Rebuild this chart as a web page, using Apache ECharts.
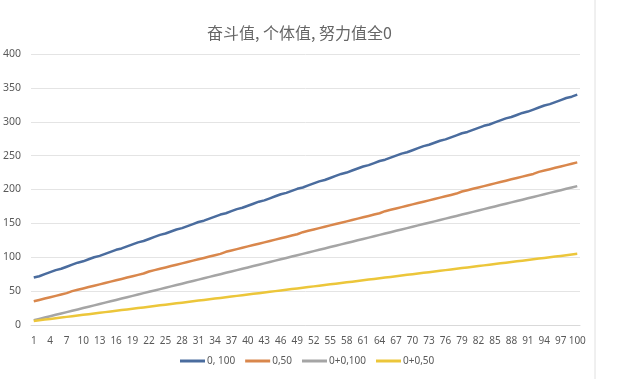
<!DOCTYPE html>
<html><head><meta charset="utf-8">
<script src="https://cdn.jsdelivr.net/npm/echarts@6/dist/echarts.min.js"></script>
<style>html,body{margin:0;padding:0;background:#fff}#c{width:619px;height:379px}</style>
</head><body><div id="c"></div>
<script>
const categories = [1,2,3,4,5,6,7,8,9,10,11,12,13,14,15,16,17,18,19,20,21,22,23,24,25,26,27,28,29,30,31,32,33,34,35,36,37,38,39,40,41,42,43,44,45,46,47,48,49,50,51,52,53,54,55,56,57,58,59,60,61,62,63,64,65,66,67,68,69,70,71,72,73,74,75,76,77,78,79,80,81,82,83,84,85,86,87,88,89,90,91,92,93,94,95,96,97,98,99,100];
const s0_100 = [70,72,75,78,81,83,86,89,92,94,97,100,102,105,108,111,113,116,119,122,124,127,130,133,135,138,141,143,146,149,152,154,157,160,163,165,168,171,173,176,179,182,184,187,190,193,195,198,201,203,206,209,212,214,217,220,223,225,228,231,234,236,239,242,244,247,250,253,255,258,261,264,266,269,272,274,277,280,283,285,288,291,294,296,299,302,305,307,310,313,315,318,321,324,326,329,332,335,337,340];
const s0_50 = [35,37,39,41,43,45,47,50,52,54,56,58,60,62,64,66,68,70,72,74,76,79,81,83,85,87,89,91,93,95,97,99,101,103,105,108,110,112,114,116,118,120,122,124,126,128,130,132,134,137,139,141,143,145,147,149,151,153,155,157,159,161,163,165,168,170,172,174,176,178,180,182,184,186,188,190,192,194,197,199,201,203,205,207,209,211,213,215,217,219,221,223,226,228,230,232,234,236,238,240];
const s00_100 = [7,9,11,13,15,17,19,21,23,25,27,29,31,33,35,37,39,41,43,45,47,49,51,53,55,57,59,61,63,65,67,69,71,73,75,77,79,81,83,85,87,89,91,93,95,97,99,101,103,105,107,109,111,113,115,117,119,121,123,125,127,129,131,133,135,137,139,141,143,145,147,149,151,153,155,157,159,161,163,165,167,169,171,173,175,177,179,181,183,185,187,189,191,193,195,197,199,201,203,205];
const s00_50 = [6,7,8,9,10,11,12,13,14,15,16,17,18,19,20,21,22,23,24,25,26,27,28,29,30,31,32,33,34,35,36,37,38,39,40,41,42,43,44,45,46,47,48,49,50,51,52,53,54,55,56,57,58,59,60,61,62,63,64,65,66,67,68,69,70,71,72,73,74,75,76,77,78,79,80,81,82,83,84,85,86,87,88,89,90,91,92,93,94,95,96,97,98,99,100,101,102,103,104,105];
const seriesNames = ['0, 100','0,50','0+0,100','0+0,50'];
const colors = ['#4a6c9e','#d9874c','#a5a5a5','#ecc63a'];
const titleText = '奋斗值, 个体值, 努力值全0';

const chart = echarts.init(document.getElementById('c'), null, {renderer:'canvas'});
const data = [s0_100, s0_50, s00_100, s00_50];
chart.setOption({
  animation:false,
  backgroundColor:'#ffffff',
  title:{text:titleText, left:202, top:20, textStyle:{fontFamily:'Noto Sans CJK SC', fontSize:16, fontWeight:'normal', color:'#666666'}},
  grid:{left:30, right:39, top:54, bottom:54},
  legend:{bottom:8, left:175, itemWidth:25, itemHeight:3, itemGap:10, icon:'rect',
    textStyle:{fontFamily:'Noto Sans', fontSize:10, color:'#595959', padding:[0,0,0,-3]},
    data:seriesNames},
  xAxis:{type:'category', data:categories, boundaryGap:true,
    axisLine:{lineStyle:{color:'#d9d9d9'}}, axisTick:{show:false},
    axisLabel:{interval:2, color:'#595959', fontFamily:'Noto Sans', fontSize:10, margin:11}},
  yAxis:{type:'value', min:0, max:400, interval:50,
    axisLine:{show:false}, axisTick:{show:false},
    splitLine:{lineStyle:{color:'#e4e4e4'}},
    axisLabel:{color:'#595959', fontFamily:'Noto Sans', fontSize:10.5, margin:10}},
  graphic:[{type:'line', shape:{x1:595,y1:0,x2:595,y2:379}, style:{stroke:'#e0e0e0', lineWidth:1}}],
  series: data.map((d,i)=>({name:seriesNames[i], type:'line', data:d, showSymbol:false, symbol:'none',
    lineStyle:{width:2.5, color:colors[i]}, itemStyle:{color:colors[i]}}))
});
</script></body></html>
